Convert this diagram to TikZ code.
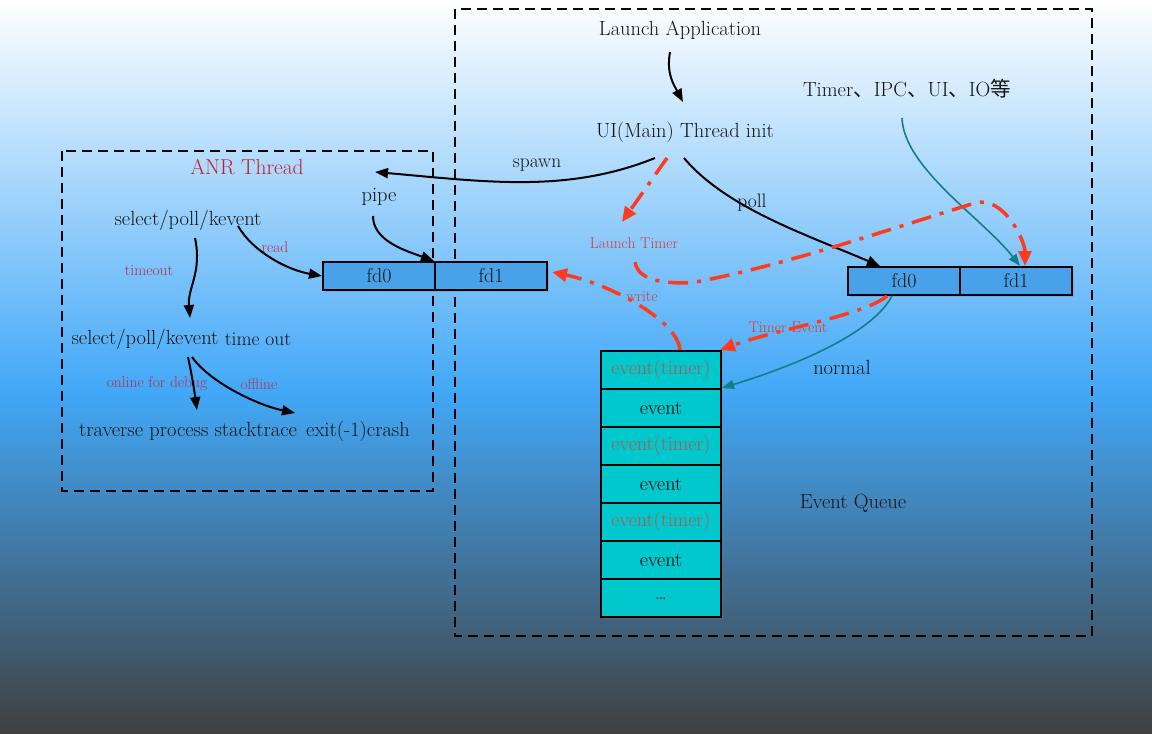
\documentclass[tikz,border=0pt]{standalone}
\usepackage{fontspec}
\newfontfamily\cjk{Noto Sans CJK SC}
\usetikzlibrary{arrows.meta,shadows}
\definecolor{bgmid}{HTML}{42A8F8}
\definecolor{bgbot}{HTML}{404040}
\definecolor{redline}{HTML}{FF3B1F}
\definecolor{tealline}{HTML}{137F82}
\definecolor{anrred}{HTML}{C0202C}
\definecolor{lblred}{HTML}{B8304A}
\definecolor{lblred2}{HTML}{DC3A3A}
\definecolor{evred}{HTML}{B45A48}
\definecolor{pipefill}{HTML}{48A2EA}
\definecolor{queuefill}{HTML}{00C8CC}
\tikzset{
  txt/.style={inner sep=0pt, font=\fontsize{20.5}{24}\selectfont, text=black!92},
  small/.style={inner sep=0pt, font=\fontsize{15.5}{18}\selectfont},
  framebox/.style={draw=black, line width=2pt, dash pattern=on 10pt off 6pt},
  boxshadow/.style={drop shadow={opacity=0.3, shadow xshift=2pt, shadow yshift=-2pt}},
  pipebox/.style={draw=black, line width=2pt, fill=pipefill, boxshadow, minimum width=112pt, minimum height=28pt, inner sep=0pt, font=\fontsize{20}{24}\selectfont, text=black!92},
  qcell/.style={draw=black, line width=2pt, fill=queuefill, boxshadow, minimum width=120pt, minimum height=38pt, inner sep=0pt, font=\fontsize{20}{24}\selectfont},
  arr/.style={draw=black, line width=2pt, -{Triangle[length=13pt,width=10pt]}},
  tarr/.style={draw=tealline, line width=1.6pt, -{Triangle[length=12pt,width=9pt]}},
  rarr/.style={draw=redline, line width=3.5pt, dash pattern=on 20pt off 9pt on 4pt off 9pt, -{Triangle[length=15pt,width=13pt]}},
}
\begin{document}
\begin{tikzpicture}[x=1pt,y=1pt]
\shade[top color=white, bottom color=bgmid] (0,0) rectangle (1152,-390);
\shade[top color=bgmid, bottom color=bgbot] (0,-390) rectangle (1152,-734);
\useasboundingbox (0,0) rectangle (1152,-734);

% frames
\draw[framebox] (455,-9) rectangle (1092,-636);
\draw[framebox] (62,-151) rectangle (433,-491);

% texts
\node[txt] (launch) at (680,-30) {Launch Application};
\node[txt] (ui) at (685,-132) {UI(Main) Thread init};
\node[txt] (src) at (907,-89) {Timer{\cjk 、}IPC{\cjk 、}UI{\cjk 、}IO{\cjk 等}};
\node[txt, text=anrred, font=\fontsize{21.5}{25}\selectfont] (anr) at (247,-167) {ANR Thread};
\node[txt] (pipe) at (379,-197) {pipe};
\node[txt] (sel) at (188,-220) {select/poll/kevent};
\node[txt] (selt) at (145,-339) {select/poll/kevent};
\node[txt, font=\fontsize{19.5}{22}\selectfont] (tout) at (258,-339) {time out};
\node[txt] (trav) at (188,-431) {traverse process stacktrace};
\node[txt] (exit) at (358,-431) {exit(-1)crash};
\node[txt, font=\fontsize{19.5}{22}\selectfont] (spawnlbl) at (537,-165) {spawn};
\node[txt, font=\fontsize{19.5}{22}\selectfont] (polllbl) at (752,-203) {poll};
\node[txt] (normallbl) at (842,-367) {normal};
\node[txt] (eqlbl) at (853,-503) {Event Queue};
\node[small, text=lblred] (readlbl) at (275,-247) {read};
\node[small, text=lblred] (tolbl) at (149,-271) {timeout};
\node[small, text=lblred] (onlbl) at (157,-384) {online for debug};
\node[small, text=lblred] (offlbl) at (259,-384) {offline};
\node[small, text=lblred2] (ltlbl) at (634,-243) {Launch Timer};
\node[small, text=lblred2] (wrlbl) at (642,-297) {write};
\node[small, text=lblred2] (telbl) at (788,-327) {Timer Event};

% pipes
\node[pipebox] (lfd0) at (379,-276) {fd0};
\node[pipebox] (lfd1) at (491,-276) {fd1};
\node[pipebox] (rfd0) at (904,-281) {fd0};
\node[pipebox] (rfd1) at (1016,-281) {fd1};

% queue
\node[qcell, text=evred] (e1) at (661,-370) {event(timer)};
\node[qcell] (e2) at (661,-408) {event};
\node[qcell, text=evred] (e3) at (661,-446) {event(timer)};
\node[qcell] (e4) at (661,-484) {event};
\node[qcell, text=evred] (e5) at (661,-522) {event(timer)};
\node[qcell] (e6) at (661,-560) {event};
\node[qcell] (e7) at (661,-598) {\raisebox{-3pt}{\dots}};

% black arrows
\draw[arr] ([shift={(-10,-22)}]launch.center) .. controls +(-100:22) and +(118:20) .. ([shift={(-2,30)}]ui.center);
\draw[arr] ([shift={(-30,-26)}]ui.center) .. controls +(-158:95) and +(-5:110) .. ([shift={(128,-5)}]anr.center);
\draw[arr] ([shift={(-1,-26)}]ui.center) .. controls +(-50:65) and +(157:80) .. ([xshift=-24pt]rfd0.north);
\draw[arr] ([shift={(50,-6)}]sel.center) .. controls +(-60:30) and +(170:35) .. (lfd0.west);
\draw[arr] ([shift={(-6,-19)}]pipe.center) .. controls +(-90:25) and +(160:30) .. ([xshift=-2pt]lfd0.north east);
\draw[arr] ([shift={(7,-18)}]sel.center) .. controls +(-78:35) and +(95:30) .. ([shift={(45,21)}]selt.center);
\draw[arr] ([shift={(43,-18)}]selt.center) .. controls +(-78:20) and +(98:20) .. ([shift={(9,21)}]trav.center);
\draw[arr] ([shift={(47,-18)}]selt.center) .. controls +(-55:30) and +(168:40) .. ([shift={(-63,18)}]exit.center);

% teal arrows
\draw[tarr] ([shift={(-5,-29)}]src.center) .. controls +(-88:50) and +(128:60) .. ([xshift=4pt]rfd1.north);
\draw[tarr] ([xshift=-12pt]rfd0.south) .. controls +(-118:45) and +(17:70) .. (e2.north east);

% red arrows
\draw[rarr] ([shift={(-18,-26)}]ui.center) -- ([shift={(-12,21)}]ltlbl.center);
\draw[rarr] ([shift={(1,-19)}]ltlbl.center) .. controls +(-80:20) and +(180:25) .. (690,-283) .. controls +(10:90) and +(197:90) .. (975,-203) .. controls +(15:30) and +(90:25) .. ([xshift=9pt]rfd1.north);
\draw[rarr] ([xshift=19pt]e1.north) .. controls +(95:30) and +(-12:60) .. ([shift={(4,4)}]lfd1.east);
\draw[rarr] ([xshift=-17pt]rfd0.south) .. controls +(-140:30) and +(20:60) .. ([xshift=-2pt]e1.north east);
\end{tikzpicture}
\end{document}
